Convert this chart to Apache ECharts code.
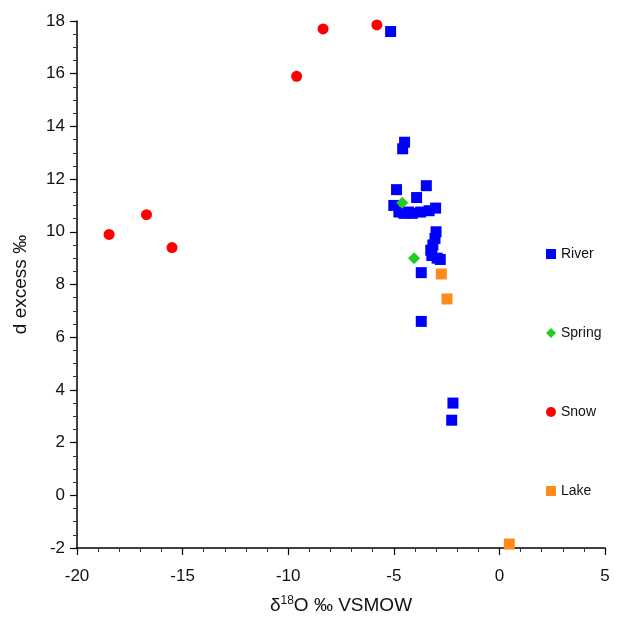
<!DOCTYPE html>
<html>
<head>
<meta charset="utf-8">
<script src="https://cdn.jsdelivr.net/npm/echarts@6/dist/echarts.min.js"></script>
<style>html,body{margin:0;padding:0;background:#fff;}#c{width:626px;height:628px;}</style>
</head>
<body>
<div id="c"></div>
<script>
var riverX = [-5.15, -4.49, -4.58, -4.87, -3.46, -3.92, -5.0, -4.76, -4.52, -4.3, -4.12, -3.73, -3.33, -3.02, -3.0, -3.05, -3.15, -3.25, -3.2, -2.95, -2.8, -3.7, -3.7, -2.2, -2.26];
var riverY = [17.6, 13.4, 13.15, 11.6, 11.75, 11.3, 11.0, 10.75, 10.7, 10.75, 10.7, 10.75, 10.8, 10.9, 10.0, 9.75, 9.5, 9.3, 9.1, 9.0, 8.95, 8.45, 6.6, 3.5, 2.85];
var springX = [-4.6, -4.04];
var springY = [11.1, 9.0];
var snowX = [-18.48, -16.71, -15.5, -9.6, -8.35, -5.8];
var snowY = [9.9, 10.65, 9.4, 15.9, 17.7, 17.85];
var lakeX = [-2.75, -2.48, 0.47];
var lakeY = [8.4, 7.45, -1.85];
var xTicks = [-20, -15, -10, -5, 0, 5];
var yTicks = [-2, 0, 2, 4, 6, 8, 10, 12, 14, 16, 18];

function pairs(xs, ys){ return xs.map(function(x,i){ return [x, ys[i]]; }); }

var chart = echarts.init(document.getElementById('c'), null, {renderer:'canvas'});
var font = 'Liberation Sans, Arial, Helvetica, sans-serif';
chart.setOption({
  animation: false,
  backgroundColor: '#fff',
  textStyle: {fontFamily: font},
  grid: {left: 77, right: 21, top: 21, bottom: 80, containLabel: false},
  legend: {
    orient: 'vertical', left: 541, top: 242, itemGap: 65,
    itemWidth: 10, itemHeight: 10,
    textStyle: {fontSize: 14, color: '#111', fontFamily: font},
    data: ['River', 'Spring', 'Snow', 'Lake']
  },
  xAxis: {
    type: 'value', min: xTicks[0], max: xTicks[xTicks.length-1], interval: 5,
    axisLine: {onZero: false, lineStyle: {color: '#000', width: 1.5}},
    axisTick: {show: true, inside: false, length: 7, lineStyle: {color: '#000', width: 1.2}},
    minorTick: {show: true, splitNumber: 5, length: 4, lineStyle: {color: '#333', width: 1}},
    splitLine: {show: false},
    axisLabel: {fontSize: 17, color: '#111', margin: 20, fontFamily: font},
    name: '{a|δ}{s|18}{a|O ‰ VSMOW}',
    nameLocation: 'middle', nameGap: 47,
    nameTextStyle: {
      rich: {
        a: {fontSize: 19, color: '#111', fontFamily: font},
        s: {fontSize: 12, color: '#111', fontFamily: font, padding: [0, 0, 9, 0]}
      }
    }
  },
  yAxis: {
    type: 'value', min: yTicks[0], max: yTicks[yTicks.length-1], interval: 2,
    axisLine: {onZero: false, lineStyle: {color: '#000', width: 1.5}},
    axisTick: {show: true, inside: false, length: 7, lineStyle: {color: '#000', width: 1.2}},
    minorTick: {show: true, splitNumber: 4, length: 4, lineStyle: {color: '#333', width: 1}},
    splitLine: {show: false},
    axisLabel: {fontSize: 17, color: '#111', margin: 12, fontFamily: font},
    name: 'd excess ‰', nameLocation: 'middle', nameGap: 47, nameRotate: 90,
    nameTextStyle: {fontSize: 19, color: '#111', fontFamily: font}
  },
  series: [
    {name: 'River', type: 'scatter', symbol: 'rect', symbolSize: 11, itemStyle: {color: '#0000ff', opacity: 1}, data: pairs(riverX, riverY)},
    {name: 'Spring', type: 'scatter', symbol: 'diamond', symbolSize: 12, itemStyle: {color: '#22cc22', opacity: 1}, data: pairs(springX, springY)},
    {name: 'Snow', type: 'scatter', symbol: 'circle', symbolSize: 11, itemStyle: {color: '#ff0000', opacity: 1}, data: pairs(snowX, snowY)},
    {name: 'Lake', type: 'scatter', symbol: 'rect', symbolSize: 11, itemStyle: {color: '#ff8a1c', opacity: 1}, data: pairs(lakeX, lakeY)}
  ]
});
</script>
</body>
</html>
